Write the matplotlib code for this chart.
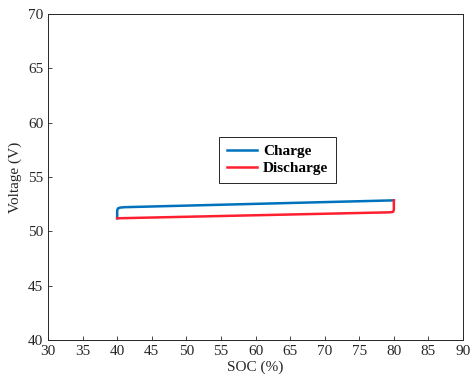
import matplotlib
matplotlib.use('Agg')
import matplotlib.pyplot as plt

# charge / discharge cycle between 40 % and 80 % SOC
charge_soc = [40.0, 40.0, 40.1, 40.4, 41.0, 80.0]
charge_v = [51.2, 51.9, 52.1, 52.18, 52.22, 52.85]
discharge_soc = [80.0, 80.0, 79.9, 79.5, 40.0]
discharge_v = [52.85, 52.0, 51.8, 51.75, 51.2]

xticks = list(range(30, 91, 5))
yticks = list(range(40, 71, 5))

plt.rcParams['font.family'] = ['Liberation Serif', 'DejaVu Serif']

fig = plt.figure(figsize=(4.72, 3.88), dpi=100)
ax = fig.add_axes([0.1017, 0.1237, 0.8793, 0.8403])

ax.plot(charge_soc, charge_v, color='#0072BD', lw=1.8, label='Charge')
ax.plot(discharge_soc, discharge_v, color='#FF1F2F', lw=1.8, label='Discharge')

ax.set_xlim(30, 90)
ax.set_ylim(40, 70)
ax.set_xticks(xticks)
ax.set_yticks(yticks)
ax.tick_params(direction='in', length=3, width=0.6, labelsize=11,
               colors='#262626', top=False, right=False)
for s in ax.spines.values():
    s.set_linewidth(0.7)
    s.set_color('#262626')

ax.set_xlabel('SOC (%)', fontsize=11, color='#262626', labelpad=2)
ax.set_ylabel('Voltage (V)', fontsize=11, color='#262626', labelpad=4)

leg = ax.legend(loc='center', bbox_to_anchor=(0.553, 0.552), fancybox=False,
                edgecolor='#262626', framealpha=1, handlelength=2.0,
                borderpad=0.5, labelspacing=0.22, handletextpad=0.35,
                borderaxespad=0, prop={'weight': 'bold', 'size': 11})
leg.get_frame().set_linewidth(0.7)

fig.savefig('out.png', dpi=100)
